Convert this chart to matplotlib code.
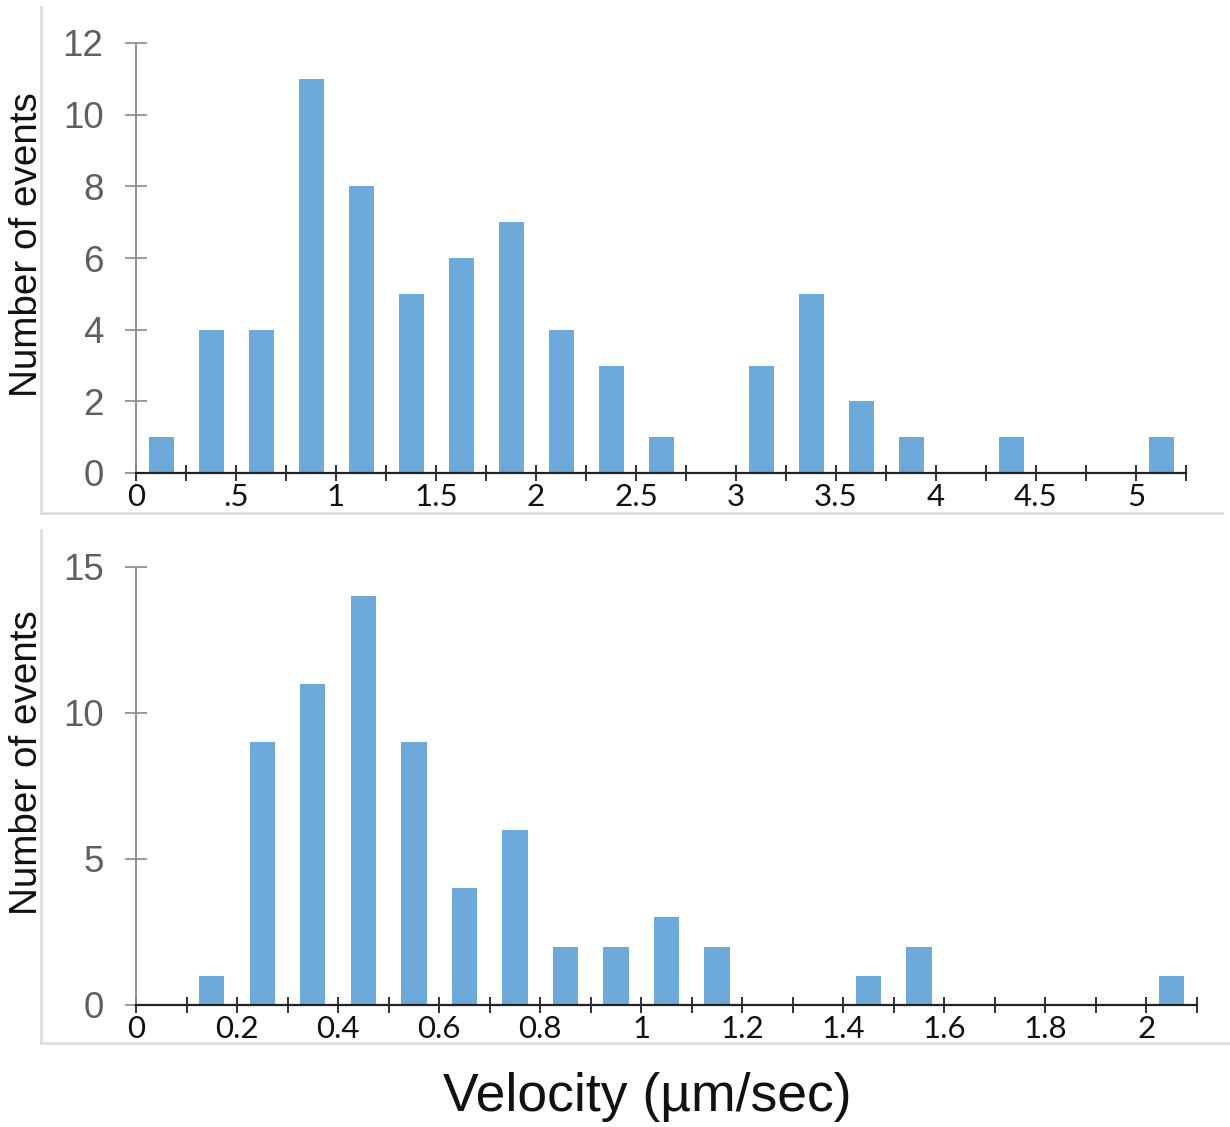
import numpy as np
import matplotlib
matplotlib.use("Agg")
import matplotlib.pyplot as plt
from matplotlib.lines import Line2D

# ---- data ----
top_bin_width = 0.25
top_counts = [1, 4, 4, 11, 8, 5, 6, 7, 4, 3, 1, 0, 3, 5, 2, 1, 0, 1, 0, 0, 1]
top_xticklabels = ["0", ".5", "1", "1.5", "2", "2.5", "3", "3.5", "4", "4.5", "5"]
top_yticks = [0, 2, 4, 6, 8, 10, 12]

bot_bin_width = 0.1
bot_counts = [0, 1, 9, 11, 14, 9, 4, 6, 2, 2, 3, 2, 0, 0, 1, 2, 0, 0, 0, 0, 1]
bot_xticklabels = ["0", "0.2", "0.4", "0.6", "0.8", "1", "1.2", "1.4", "1.6", "1.8", "2"]
bot_yticks = [0, 5, 10, 15]

ylabel = "Number of events"
xlabel = "Velocity (µm/sec)"

bar_color = "#6CAADB"
W, H = 1230, 1127
fig = plt.figure(figsize=(W / 100, H / 100), dpi=100)

def px(x0, y0, x1, y1):
    return [x0 / W, 1 - y1 / H, (x1 - x0) / W, (y1 - y0) / H]

def style(ax, counts, bw, xlabels, label_step, yticks):
    n = len(counts)
    edges = np.arange(n + 1) * bw
    centers = edges[:-1] + bw / 2
    ax.bar(centers, counts, width=bw * 0.5, color=bar_color, zorder=2)
    ax.set_xlim(0, edges[-1])
    ax.set_ylim(0, yticks[-1])
    ax.set_xticks(edges)
    labs = []
    for i in range(len(edges)):
        if i % label_step == 0 and i // label_step < len(xlabels):
            labs.append(xlabels[i // label_step])
        else:
            labs.append("")
    ax.set_xticklabels(labs, fontfamily=["Lato", "DejaVu Sans"], fontsize=22.5, color="#111111")
    ax.set_yticks(yticks)
    ax.set_yticklabels([str(v) for v in yticks], fontfamily=["Liberation Sans", "DejaVu Sans"],
                       fontsize=26.5, color="#5f5f5f")
    for s in ("top", "right"):
        ax.spines[s].set_visible(False)
    ax.spines["left"].set_color("#8a8a8a")
    ax.spines["left"].set_linewidth(1.3)
    ax.spines["bottom"].set_color("#222222")
    ax.spines["bottom"].set_linewidth(1.6)
    ax.spines["bottom"].set_zorder(3)
    ax.tick_params(axis="y", direction="inout", length=15.8, width=1.2, color="#8a8a8a", pad=15.5)
    ax.tick_params(axis="x", direction="inout", length=11, width=1.3, color="#222222", pad=1.5)
    ax.set_facecolor("none")

ax1 = fig.add_axes(px(136, 43, 1186, 473))
style(ax1, top_counts, top_bin_width, top_xticklabels, 2, top_yticks)

ax2 = fig.add_axes(px(136, 567, 1197, 1005))
style(ax2, bot_counts, bot_bin_width, bot_xticklabels, 2, bot_yticks)

# panel frames
fc = "#dcdcdc"
def fline(x0, y0, x1, y1):
    fig.add_artist(Line2D([x0 / W, x1 / W], [1 - y0 / H, 1 - y1 / H], color=fc, lw=1.8,
                          transform=fig.transFigure))
fline(41, 7, 41, 513)
fline(41, 513, 1222, 513)
fline(41, 530, 41, 1043)
fline(41, 1043, 1230, 1043)

fig.text(27 / W, 1 - 245 / H, ylabel, rotation=90, ha="center", va="center",
         fontsize=27.8, family=["Liberation Sans", "DejaVu Sans"], color="#111111")
fig.text(27 / W, 1 - 763 / H, ylabel, rotation=90, ha="center", va="center",
         fontsize=27.8, family=["Liberation Sans", "DejaVu Sans"], color="#111111")
fig.text(647 / W, 1 - 1097 / H, xlabel, ha="center", va="center",
         fontsize=38.5, family=["Liberation Sans", "DejaVu Sans"], color="#111111")

fig.savefig("out.png", dpi=100, facecolor="white")
